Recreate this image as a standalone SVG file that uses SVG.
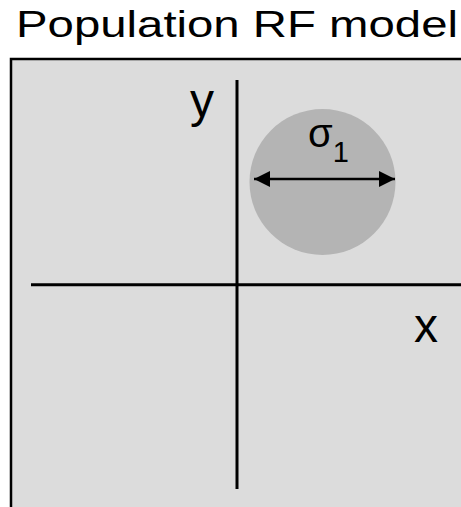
<svg xmlns="http://www.w3.org/2000/svg" width="461" height="507" viewBox="0 0 461 507">
<style>
text{font-family:"Liberation Sans",Arial,sans-serif;fill:#000}
.ax{stroke:#000;stroke-width:3;fill:none}
</style>
<defs>
<marker id="ah" markerUnits="userSpaceOnUse" markerWidth="17" markerHeight="16" refX="16" refY="8" orient="auto-start-reverse">
<path d="M0,0 L16,8 L0,16 Z" fill="#000"/>
</marker>
</defs>
<rect width="461" height="507" fill="#fff"/>
<text x="16" y="37" font-size="36" textLength="442" lengthAdjust="spacingAndGlyphs">Population RF model</text>
<g id="panel">
<rect x="11" y="59" width="470" height="470" fill="#dcdcdc" stroke="#000" stroke-width="2.5"/>
</g>
<g id="rf">
<circle cx="322.5" cy="182" r="73" fill="#b4b4b4"/>
<text x="308" y="147" font-size="40">σ<tspan font-size="29" dy="15">1</tspan></text>
</g>
<g id="connectors">
<line class="ax" x1="237" y1="80" x2="237" y2="489"/>
<line class="ax" x1="31" y1="284.7" x2="461" y2="284.7"/>
<line x1="254" y1="179" x2="395" y2="179" stroke="#000" stroke-width="2.5" marker-start="url(#ah)" marker-end="url(#ah)"/>
</g>
<text x="190" y="117" font-size="48">y</text>
<text x="414" y="342" font-size="48">x</text>
</svg>
